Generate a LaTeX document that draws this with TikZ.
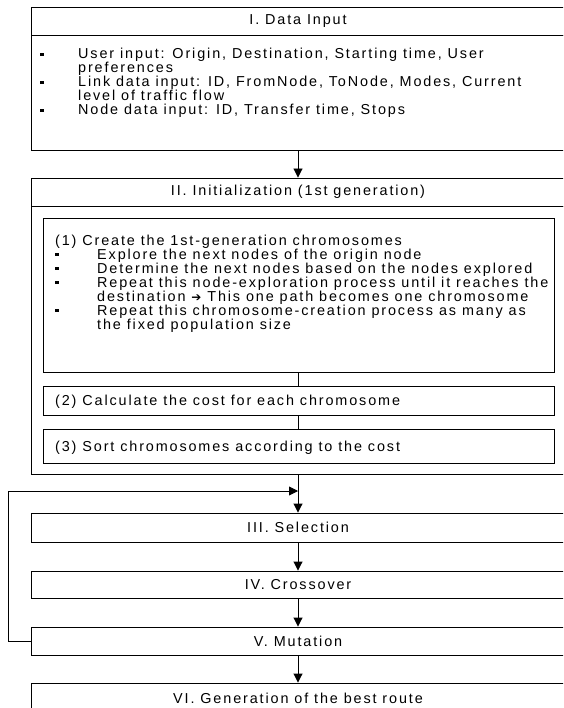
\documentclass[tikz,border=0pt]{standalone}
\usepackage{fontspec}
\setmainfont[LetterSpace=13]{Liberation Sans}
\newfontfamily\symfont{DejaVu Sans}
\usetikzlibrary{arrows.meta}
\newcommand\dfont{\fontsize{14.4}{14}\selectfont}
\begin{document}
\begin{tikzpicture}[x=1pt,y=-1pt,
  frame/.style={draw=black, line width=0.9pt, rectangle, inner sep=0pt, minimum width=534pt, font=\dfont},
  inbox/.style={draw=black, line width=0.9pt, rectangle, inner sep=0pt, minimum width=511pt},
  txt/.style={anchor=base west, inner sep=0pt, font=\dfont},
  bul/.style={fill=black, draw=none, rectangle, inner sep=0pt, minimum size=3.6pt},
  arr/.style={draw=black, line width=0.9pt, -{Triangle[length=9pt,width=9pt]}},
  ln/.style={draw=black, line width=0.9pt}]
\clip (0,0) rectangle (563,708);

% I. Data input
\node[frame, minimum height=28pt] (t1) at (298,21) {I. Data Input};
\node[frame, minimum height=115pt] (b1) at (298,92.5) {};
\node[bul] (u1) at (42,54.5) {};
\node[txt] (a1) at (78,59) {User input: Origin, Destination, Starting time, User};
\node[txt] (a2) at (78,73) {preferences};
\node[bul] (u2) at (42,82.5) {};
\node[txt] (a3) at (78,87) {Link data input: ID, FromNode, ToNode, Modes, Current};
\node[txt] (a4) at (78,101) {level of traffic flow};
\node[bul] (u3) at (42,110.5) {};
\node[txt] (a5) at (78,115) {Node data input: ID, Transfer time, Stops};

% II. Initialization
\node[frame, minimum height=28pt] (t2) at (298,192) {II. Initialization (1st generation)};
\node[frame, minimum height=268pt] (b2) at (298,340) {};
\node[inbox, minimum height=154pt] (c1) at (298.5,295) {};
\node[txt] (p0) at (55,245) {(1) Create the 1st-generation chromosomes};
\node[bul] (v1) at (57,254.5) {};
\node[txt] (p1) at (97,259) {Explore the next nodes of the origin node};
\node[bul] (v2) at (57,268.5) {};
\node[txt] (p2) at (97,273) {Determine the next nodes based on the nodes explored};
\node[bul] (v3) at (57,282.5) {};
\node[txt] (p3) at (97,287) {Repeat this node-exploration process until it reaches the};
\node[txt] (p4) at (97,301) {destination {\symfont\fontsize{12}{12}\selectfont ➔} This one path becomes one chromosome};
\node[bul] (v4) at (57,310.5) {};
\node[txt] (p5) at (97,315) {Repeat this chromosome-creation process as many as};
\node[txt] (p6) at (97,329) {the fixed population size};

\node[inbox, minimum height=29pt] (c2) at (298.5,400.5) {};
\node[txt] (q2) at (55,405.5) {(2) Calculate the cost for each chromosome};
\node[inbox, minimum height=34pt] (c3) at (298.5,446) {};
\node[txt] (q3) at (55,451) {(3) Sort chromosomes according to the cost};

% III - VI
\node[frame, minimum height=29pt] (s3) at (298,527.5) {III. Selection};
\node[frame, minimum height=27pt] (s4) at (298,584.5) {IV. Crossover};
\node[frame, minimum height=28pt] (s5) at (298,641) {V. Mutation};
\node[frame, minimum height=30pt] (s6) at (298,698) {VI. Generation of the best route};

% connectors
\draw[arr] (b1.south) -- (t2.north);
\draw[ln] (c1.south) -- (c2.north);
\draw[ln] (c2.south) -- (c3.north);
\draw[arr] (b2.south) -- (s3.north);
\draw[arr] (s3.south) -- (s4.north);
\draw[arr] (s4.south) -- (s5.north);
\draw[arr] (s5.south) -- (s6.north);
\coordinate (j) at (298,491);
\coordinate (lp) at (8,491);
\draw[arr] (s5.west) -| (lp) -- (j);
\end{tikzpicture}
\end{document}
